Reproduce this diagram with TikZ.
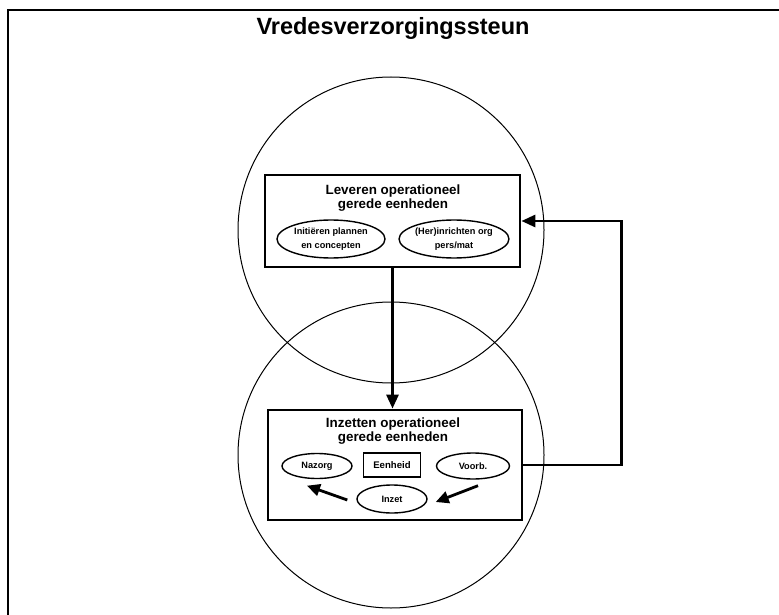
\documentclass[tikz,border=0pt]{standalone}
\usepackage{fontspec}
\setmainfont{Liberation Sans}
\usetikzlibrary{shapes.geometric}
\usetikzlibrary{arrows.meta}

\begin{document}
\begin{tikzpicture}[x=1pt, y=-1pt,
    box/.style={draw, line width=2.8pt, inner sep=0pt},
    oval/.style={draw, ellipse, line width=1.4pt, inner sep=0pt, align=center,
        font=\bfseries\fontsize{9.2}{13.5}\selectfont},
    head/.style={align=center, font=\bfseries\fontsize{13.4}{14}\selectfont},
    flow/.style={line width=2.8pt, -{Triangle[length=14pt,width=12pt]}}]
\useasboundingbox (0,0) rectangle (779,615);
\draw[line width=1.6pt] (8,615) -- (8,10) -- (779,10);
\node[font=\bfseries\fontsize{23.5}{26}\selectfont] (title) at (393,28) {Vredesverzorgingssteun};
    \draw[line width=1pt] (391,230) circle (153pt);
    \draw[line width=1pt] (391,455) circle (153pt);
\node[box, minimum width=255pt, minimum height=92pt] (lev) at (392.5,221) {};
\node[head] (levtxt) at (393,198.5) {Leveren operationeel\\gerede eenheden};
\node[oval, minimum width=108pt, minimum height=38pt] (init) at (331,239) {Initiëren plannen\\en concepten};
\node[oval, minimum width=108pt, minimum height=38pt] (herin) at (454,239) {(Her)inrichten org\\pers/mat};
\node[box, minimum width=254pt, minimum height=110pt] (inz) at (395,465) {};
\node[head] (inztxt) at (393,431.5) {Inzetten operationeel\\gerede eenheden};
\node[oval, minimum width=70pt, minimum height=25pt] (nazorg) at (317,466) {Nazorg};
\node[draw, line width=1.6pt, minimum width=57pt, minimum height=24pt, inner sep=0pt,
    font=\bfseries\fontsize{9.6}{12}\selectfont] (eenheid) at (392,465) {Eenheid};
\node[oval, minimum width=73pt, minimum height=26pt] (voorb) at (473,466) {Voorb.};
\node[oval, minimum width=70pt, minimum height=28pt] (inzet) at (392,499) {Inzet};
    \draw[flow] (lev.south) -- (lev.south |- inz.north);
    \draw[flow] (inz.east) -- ++(98,0) |- (lev.east);
    \draw[flow, -{Triangle[length=13pt,width=12pt]}] ([xshift=5pt,yshift=-6pt]voorb.south) -- ([xshift=8pt,yshift=-3pt]inzet.east);
    \draw[flow, -{Triangle[length=13pt,width=12pt]}] ([xshift=-9pt,yshift=-1pt]inzet.west) -- ([xshift=-10pt,yshift=-6.5pt]nazorg.south);
\end{tikzpicture}
\end{document}
